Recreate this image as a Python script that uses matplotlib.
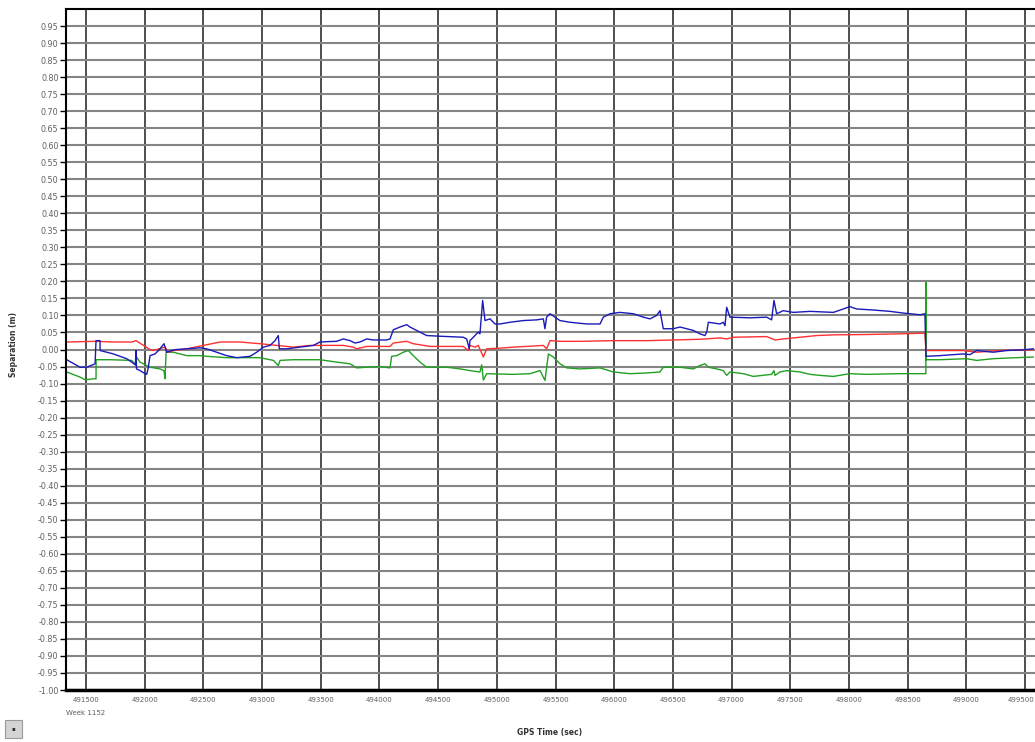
import matplotlib.pyplot as plt
import numpy as np
from matplotlib.patches import Rectangle
from matplotlib.transforms import ScaledTranslation

plt.rcParams['font.family'] = ['DejaVu Sans']

# GPS time (sec) / separation (m)
blue_t = [491335, 491449, 491506, 491577, 491585, 491619, 491620, 491733, 491846, 491889,
          491920, 491926, 491930, 491960, 492003, 492017, 492031, 492045, 492088, 492130,
          492164, 492187, 492230, 492272, 492358, 492471, 492528, 492613, 492698, 492784,
          492897, 492954, 493011, 493068, 493110, 493138, 493147, 493210, 493323, 493437,
          493493, 493550, 493635, 493692, 493749, 493792, 493834, 493891, 493948, 494060,
          494090, 494118, 494175, 494232, 494260, 494345, 494402, 494516, 494714, 494743,
          494765, 494771, 494814, 494842, 494856, 494879, 494899, 494942, 494984, 495027,
          495112, 495225, 495339, 495396, 495410, 495424, 495453, 495495, 495538, 495623,
          495765, 495879, 495907, 495964, 496049, 496163, 496248, 496305, 496361, 496390,
          496418, 496503, 496560, 496617, 496674, 496731, 496773, 496788, 496802, 496901,
          496929, 496944, 496958, 496986, 497157, 497299, 497341, 497361, 497384, 497440,
          497526, 497668, 497867, 497952, 498008, 498065, 498207, 498349, 498463, 498605,
          498647, 498656, 498775, 498974, 499031, 499088, 499229, 499343, 499485, 499570]
blue_v = [-0.030, -0.052, -0.052, -0.042, 0.026, 0.026, -0.003, -0.013, -0.027, -0.037,
          -0.045, -0.003, -0.057, -0.062, -0.071, -0.073, -0.052, -0.018, -0.013, 0.002,
          0.017, -0.008, -0.003, 0.000, 0.002, 0.005, 0.002, -0.008, -0.018, -0.024,
          -0.020, -0.008, 0.007, 0.012, 0.026, 0.041, 0.002, 0.002, 0.007, 0.012,
          0.022, 0.023, 0.024, 0.031, 0.026, 0.019, 0.022, 0.031, 0.028, 0.028,
          0.031, 0.058, 0.066, 0.073, 0.066, 0.051, 0.041, 0.039, 0.036, 0.031,
          0.002, 0.026, 0.041, 0.051, 0.046, 0.144, 0.085, 0.090, 0.075, 0.075,
          0.080, 0.085, 0.087, 0.090, 0.061, 0.095, 0.105, 0.095, 0.085, 0.080,
          0.075, 0.075, 0.095, 0.105, 0.109, 0.105, 0.095, 0.090, 0.100, 0.114,
          0.061, 0.061, 0.066, 0.061, 0.056, 0.046, 0.041, 0.051, 0.080, 0.075,
          0.080, 0.070, 0.124, 0.095, 0.093, 0.095, 0.087, 0.144, 0.105, 0.114,
          0.109, 0.112, 0.109, 0.119, 0.126, 0.119, 0.116, 0.112, 0.107, 0.102,
          0.105, -0.020, -0.018, -0.013, -0.015, -0.003, -0.008, -0.003, -0.001, 0.002]

red_t = [491335, 491577, 491733, 491889, 491926, 492045, 492074, 492173, 492201, 492244,
         492358, 492499, 492642, 492812, 492982, 493124, 493266, 493408, 493692, 493777,
         493806, 493891, 494090, 494118, 494232, 494288, 494431, 494714, 494757, 494771,
         494814, 494842, 494885, 494913, 495027, 495140, 495254, 495396, 495424, 495453,
         495538, 495708, 495992, 496276, 496731, 496901, 496958, 497015, 497299, 497370,
         497440, 497583, 497725, 497867, 498151, 498435, 498647, 498656, 498974, 499088,
         499286, 499570]
red_v = [0.022, 0.024, 0.022, 0.022, 0.026, 0.000, -0.003, 0.007, -0.008, -0.003,
         0.002, 0.012, 0.022, 0.022, 0.017, 0.012, 0.007, 0.012, 0.012, 0.007,
         0.002, 0.009, 0.009, 0.019, 0.024, 0.017, 0.009, 0.009, -0.003, 0.012,
         0.007, 0.012, -0.022, 0.002, 0.004, 0.007, 0.009, 0.012, 0.002, 0.026,
         0.024, 0.024, 0.026, 0.026, 0.030, 0.034, 0.031, 0.036, 0.038, 0.028,
         0.031, 0.036, 0.041, 0.043, 0.044, 0.046, 0.048, -0.003, -0.003, -0.008,
         -0.003, -0.001]

green_t = [491335, 491449, 491492, 491562, 491585, 491586, 491704, 491889, 491926, 491930,
           491960, 492045, 492130, 492164, 492173, 492182, 492244, 492358, 492471, 492528,
           492698, 492982, 493096, 493138, 493153, 493266, 493493, 493635, 493749, 493806,
           493891, 494005, 494090, 494104, 494147, 494203, 494246, 494288, 494345, 494402,
           494573, 494686, 494771, 494856, 494871, 494885, 494913, 495140, 495282, 495368,
           495410, 495439, 495481, 495538, 495595, 495708, 495879, 495992, 496134, 496276,
           496390, 496418, 496560, 496674, 496731, 496773, 496802, 496873, 496929, 496958,
           496986, 497100, 497185, 497341, 497361, 497370, 497412, 497469, 497583, 497668,
           497753, 497867, 498008, 498151, 498435, 498655, 498656, 498658, 498775, 499002,
           499088, 499229, 499429, 499570]
green_v = [-0.066, -0.081, -0.089, -0.086, -0.086, -0.030, -0.030, -0.032, -0.047, -0.022,
           -0.037, -0.052, -0.057, -0.062, -0.086, -0.008, -0.008, -0.018, -0.018, -0.020,
           -0.024, -0.024, -0.032, -0.047, -0.032, -0.030, -0.030, -0.037, -0.042, -0.054,
           -0.052, -0.050, -0.054, -0.020, -0.018, -0.008, -0.003, -0.018, -0.037, -0.052,
           -0.052, -0.057, -0.062, -0.066, -0.045, -0.090, -0.071, -0.073, -0.071, -0.062,
           -0.091, -0.013, -0.022, -0.042, -0.054, -0.057, -0.054, -0.066, -0.071, -0.069,
           -0.066, -0.052, -0.052, -0.057, -0.047, -0.042, -0.052, -0.057, -0.062, -0.076,
           -0.066, -0.071, -0.079, -0.073, -0.062, -0.076, -0.066, -0.062, -0.066, -0.073,
           -0.076, -0.079, -0.071, -0.073, -0.071, -0.071, 0.197, -0.030, -0.030, -0.027,
           -0.032, -0.027, -0.024, -0.022]

x_ticks = list(range(491500, 500000, 500))
y_ticks = [round(-1.0 + 0.05 * i, 2) for i in range(40)]

fig = plt.figure(figsize=(10.35, 7.42), dpi=100)
ax = fig.add_axes([65.5 / 1035, 1 - 690 / 742, 1 - 65.5 / 1035, (690 - 9) / 742])

ax.plot(green_t, green_v, color='#22a022', lw=1.0)
ax.plot(red_t, red_v, color='#ff3030', lw=1.0)
ax.plot(blue_t, blue_v, color='#1a1ab8', lw=1.0)

ax.set_xlim(491325, 499585)
ax.set_ylim(-1.0, 1.0)
ax.set_xticks(x_ticks)
ax.set_xticklabels([str(t) for t in x_ticks])
ax.set_yticks(y_ticks)
ax.set_yticklabels(['%.2f' % v for v in y_ticks])

ax.grid(True, which='major', axis='x', color='#303030', lw=1.2)
ax.grid(True, which='major', axis='y', color='#858585', lw=1.5)
ax.set_axisbelow(True)

ax.tick_params(axis='y', length=4, width=1, pad=1, labelsize=5.8, labelcolor='#606060')
ax.tick_params(axis='x', length=0, pad=5, labelsize=5.0, labelcolor='#606060')

# last x label sits on the right edge, nudge it inside
last = ax.get_xticklabels()[-1]
last.set_transform(last.get_transform() + ScaledTranslation(-0.04, 0, fig.dpi_scale_trans))

for side in ['left', 'top']:
    ax.spines[side].set_linewidth(1.5)
ax.spines['bottom'].set_linewidth(2.5)
ax.spines['right'].set_visible(False)

fig.text(14 / 1035, 1 - 345 / 742, 'Separation (m)', rotation=90, ha='center', va='center',
         fontsize=5.5, fontweight='bold', color='#333333')
fig.text(550 / 1035, 1 - 733 / 742, 'GPS Time (sec)', ha='center', va='center',
         fontsize=5.5, fontweight='bold', color='#333333')
fig.text(86 / 1035, 1 - 713 / 742, 'Week 1152', ha='center', va='center',
         fontsize=5.0, color='#606060')

# small button in the corner
fig.patches.append(Rectangle((5 / 1035, 1 - 738 / 742), 17 / 1035, 18 / 742,
                             transform=fig.transFigure, facecolor='#d4d4d4',
                             edgecolor='#9a9a9a', lw=0.8))
fig.text(13.5 / 1035, 1 - 729 / 742, '▪', ha='center', va='center', fontsize=4, color='#333333')

fig.savefig('out.png', dpi=100, facecolor='white')
